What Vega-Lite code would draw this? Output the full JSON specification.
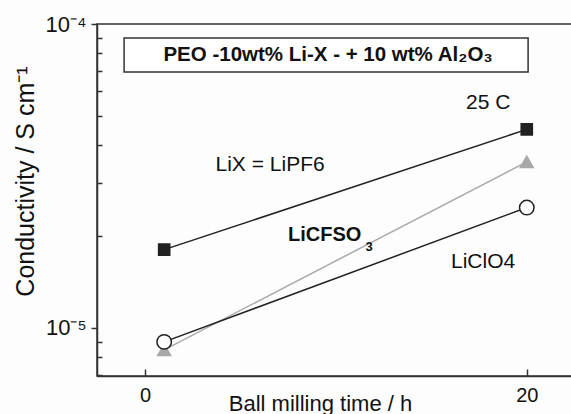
{
  "$schema": "https://vega.github.io/schema/vega-lite/v6.json",
  "width": 475,
  "height": 352,
  "autosize": {"type": "none"},
  "padding": {"left": 97, "top": 24, "right": 0, "bottom": 38},
  "background": "#fdfdfd",
  "config": {
    "view": {"stroke": "#333", "strokeWidth": 1.5},
    "font": "Liberation Sans",
    "axis": {
      "labelFont": "Liberation Sans",
      "titleFont": "Liberation Sans",
      "domainColor": "#333",
      "domainWidth": 1.5,
      "tickColor": "#333",
      "tickWidth": 1.5,
      "labelColor": "#111",
      "titleColor": "#111",
      "titleFontWeight": "normal",
      "grid": false
    }
  },
  "data": {
    "values": [
      {"salt": "LiPF6", "t": 1, "sigma": 1.81e-5},
      {"salt": "LiPF6", "t": 20, "sigma": 4.5e-5},
      {"salt": "LiCFSO3", "t": 1, "sigma": 8.47e-6},
      {"salt": "LiCFSO3", "t": 20, "sigma": 3.52e-5},
      {"salt": "LiClO4", "t": 1, "sigma": 9.0e-6},
      {"salt": "LiClO4", "t": 20, "sigma": 2.49e-5}
    ]
  },
  "layer": [
    {
      "mark": {"type": "line", "strokeWidth": 1.5},
      "encoding": {
        "x": {
          "field": "t", "type": "quantitative",
          "scale": {"domain": [-2.52, 22.37], "nice": false, "zero": false},
          "axis": {
            "orient": "bottom",
            "values": [0, 20], "tickSize": -7, "labelFontSize": 20, "labelPadding": 16,
            "title": "Ball milling time / h", "titleFontSize": 22,
            "titleX": 223, "titleY": 27, "titleAlign": "center", "titleBaseline": "middle",
            "labelFlush": false
          }
        },
        "y": {
          "field": "sigma", "type": "quantitative",
          "scale": {"type": "log", "domain": [6.95e-6, 1e-4], "nice": false},
          "axis": {
            "orient": "left",
            "values": [1e-5, 1e-4], "tickSize": 6, "labelFontSize": 22, "labelPadding": 5,
            "labelExpr": "datum.value > 5e-5 ? '10⁻⁴' : '10⁻⁵'",
            "labelFlush": false,
            "title": "Conductivity / S cm⁻¹", "titleFontSize": 25,
            "titleX": -72, "titleY": 157, "titleAngle": -90, "titleAlign": "center", "titleBaseline": "middle"
          }
        },
        "detail": {"field": "salt"},
        "color": {
          "field": "salt", "type": "nominal", "legend": null,
          "scale": {"domain": ["LiPF6", "LiCFSO3", "LiClO4"], "range": ["#222222", "#aaaaaa", "#222222"]}
        }
      }
    },
    {
      "mark": {"type": "point", "filled": false, "opacity": 1, "strokeWidth": 1.5},
      "encoding": {
        "x": {"field": "t", "type": "quantitative", "axis": null},
        "y": {
          "field": "sigma", "type": "quantitative",
          "axis": {
            "orient": "left",
            "values": [7e-6, 8e-6, 9e-6, 2e-5, 3e-5, 4e-5, 5e-5, 6e-5, 7e-5, 8e-5, 9e-5],
            "tickSize": -5, "labels": false, "domain": false, "title": null
          }
        },
        "shape": {
          "field": "salt", "type": "nominal", "legend": null,
          "scale": {"domain": ["LiPF6", "LiCFSO3", "LiClO4"], "range": ["square", "triangle-up", "circle"]}
        },
        "size": {
          "field": "salt", "type": "nominal", "legend": null,
          "scale": {"domain": ["LiPF6", "LiCFSO3", "LiClO4"], "range": [125, 210, 100]}
        },
        "fill": {
          "field": "salt", "type": "nominal", "legend": null,
          "scale": {"domain": ["LiPF6", "LiCFSO3", "LiClO4"], "range": ["#222222", "#a8a8a8", "#ffffff"]}
        },
        "stroke": {
          "field": "salt", "type": "nominal", "legend": null,
          "scale": {"domain": ["LiPF6", "LiCFSO3", "LiClO4"], "range": ["#222222", "#a8a8a8", "#222222"]}
        }
      }
    },
    {
      "data": {"values": [{}]},
      "mark": {"type": "rect", "fill": "#ffffff", "stroke": "#333", "strokeWidth": 1.5},
      "encoding": {
        "x": {"datum": -1.1, "type": "quantitative", "axis": null},
        "x2": {"datum": 20.07},
        "y": {"datum": 9.0e-5, "type": "quantitative", "axis": null},
        "y2": {"datum": 6.95e-5}
      }
    },
    {
      "data": {"values": [{}]},
      "mark": {"type": "text", "text": "PEO -10wt% Li-X - + 10 wt% Al₂O₃", "font": "Liberation Sans", "fontSize": 20.5, "fontWeight": "bold", "fill": "#111", "align": "center", "baseline": "middle"},
      "encoding": {
        "x": {"datum": 9.59, "type": "quantitative", "axis": null},
        "y": {"datum": 7.91e-5, "type": "quantitative", "axis": null}
      }
    },
    {
      "data": {"values": [{}]},
      "mark": {"type": "text", "text": "25 C", "font": "Liberation Sans", "fontSize": 21, "fontWeight": "normal", "fill": "#111", "align": "center", "baseline": "middle"},
      "encoding": {
        "x": {"datum": 17.98, "type": "quantitative", "axis": null},
        "y": {"datum": 5.5e-5, "type": "quantitative", "axis": null}
      }
    },
    {
      "data": {"values": [{}]},
      "mark": {"type": "text", "text": "LiX = LiPF6", "font": "Liberation Sans", "fontSize": 21, "fontWeight": "normal", "fill": "#111", "align": "center", "baseline": "middle"},
      "encoding": {
        "x": {"datum": 6.55, "type": "quantitative", "axis": null},
        "y": {"datum": 3.44e-5, "type": "quantitative", "axis": null}
      }
    },
    {
      "data": {"values": [{}]},
      "mark": {"type": "text", "text": "LiCFSO", "font": "Liberation Sans", "fontSize": 20, "fontWeight": "bold", "fill": "#111", "align": "left", "baseline": "middle"},
      "encoding": {
        "x": {"datum": 7.49, "type": "quantitative", "axis": null},
        "y": {"datum": 2.02e-5, "type": "quantitative", "axis": null}
      }
    },
    {
      "data": {"values": [{}]},
      "mark": {"type": "text", "text": "3", "font": "Liberation Sans", "fontSize": 13, "fontWeight": "bold", "fill": "#111", "align": "center", "baseline": "middle"},
      "encoding": {
        "x": {"datum": 11.74, "type": "quantitative", "axis": null},
        "y": {"datum": 1.85e-5, "type": "quantitative", "axis": null}
      }
    },
    {
      "data": {"values": [{}]},
      "mark": {"type": "text", "text": "LiClO4", "font": "Liberation Sans", "fontSize": 21, "fontWeight": "normal", "fill": "#111", "align": "center", "baseline": "middle"},
      "encoding": {
        "x": {"datum": 17.71, "type": "quantitative", "axis": null},
        "y": {"datum": 1.65e-5, "type": "quantitative", "axis": null}
      }
    }
  ],
  "resolve": {"axis": {"x": "independent", "y": "independent"}}
}
